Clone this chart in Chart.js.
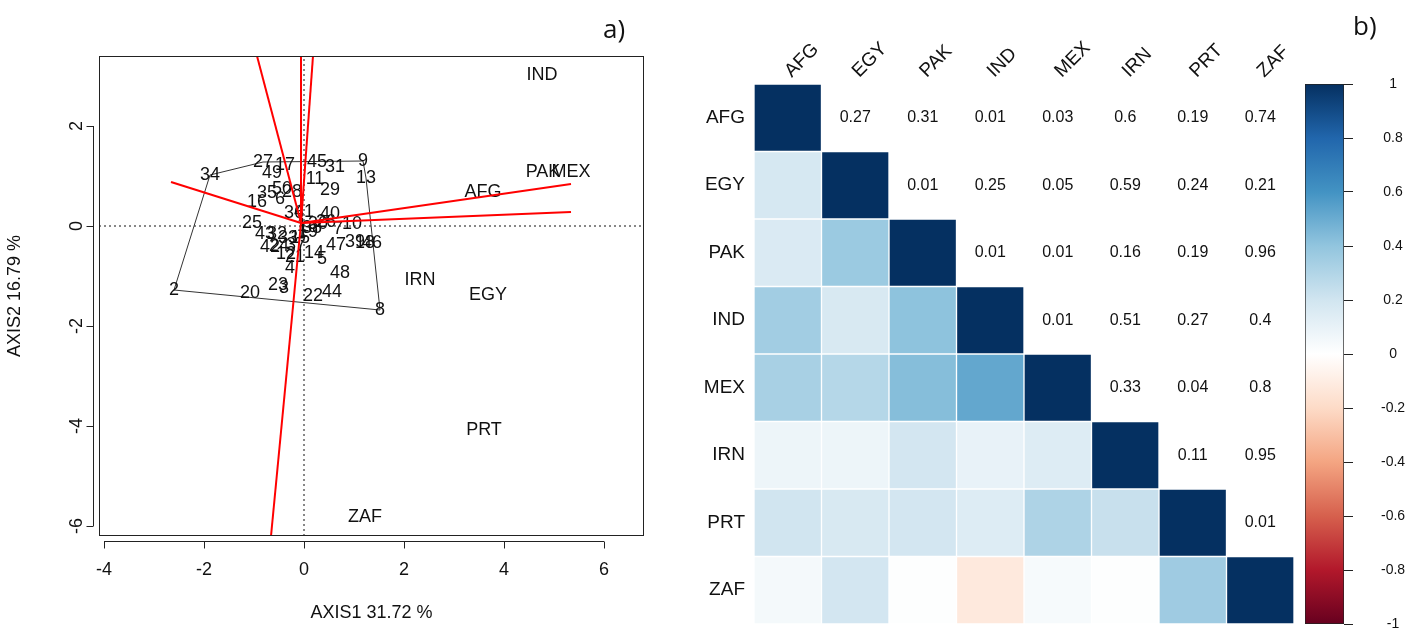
<!DOCTYPE html>
<html><head><meta charset="utf-8">
<script src="https://cdn.jsdelivr.net/npm/chart.js@4"></script>
<style>
html,body{margin:0;padding:0;background:#fff;}
#wrap{position:relative;width:1405px;height:631px;overflow:hidden;background:#fff;}
canvas{position:absolute;top:0;}
#cA{left:0;} #cB{left:680px;} #cC{left:1290px;}
.tag{position:absolute;font-family:'Open Sans','Noto Sans',sans-serif;font-size:26px;color:#111;line-height:1;}
</style></head><body>
<div id="wrap">
<canvas id="cA" width="660" height="631"></canvas>
<canvas id="cB" width="620" height="631"></canvas>
<canvas id="cC" width="115" height="631"></canvas>
<div class="tag" style="left:603px;top:15px">a)</div>
<div class="tag" style="left:1353px;top:12px">b)</div>
</div>
<script>
// ---------- Panel a) : biplot data ----------
const obsIds = [1,2,3,4,5,6,7,8,9,10,11,12,13,14,15,16,17,18,19,20,21,22,23,24,25,26,27,28,29,30,31,32,33,34,35,36,37,38,39,40,41,42,43,44,45,46,47,48,49,50];
const obsX = [-0.04,-2.60,-0.40,-0.28,0.36,-0.48,0.68,1.52,1.18,0.96,0.22,-0.36,1.24,0.20,-0.08,-0.94,-0.38,1.22,0.08,-1.08,-0.18,0.18,-0.52,-0.50,-1.04,0.44,-0.82,-0.24,0.52,0.28,0.62,-0.54,-0.32,-1.88,-0.74,-0.20,-0.16,0.16,1.02,0.52,0.00,-0.68,-0.78,0.56,0.26,1.36,0.64,0.72,-0.64,-0.44];
const obsY = [0.00,-1.28,-1.24,-0.84,-0.66,0.54,-0.06,-1.68,1.30,0.04,0.94,-0.56,0.96,-0.54,-0.24,0.48,1.22,-0.34,-0.12,-1.34,-0.62,-1.40,-1.18,-0.40,0.06,0.08,1.28,0.68,0.72,0.04,1.18,-0.16,-0.24,1.02,0.66,0.26,-0.38,-0.04,-0.32,0.24,0.28,-0.42,-0.16,-1.32,1.28,-0.34,-0.38,-0.94,1.06,0.74];
const hullIds = [2,34,27,9,13,8,2];
const varNames = ['IND','PAK','MEX','AFG','IRN','EGY','PRT','ZAF'];
const varX = [4.76,4.78,5.34,3.58,2.32,3.68,3.60,1.22];
const varY = [3.02,1.08,1.08,0.68,-1.08,-1.38,-4.08,-5.82];
const arrowStart = [-0.06,0.06];
const arrowEndX = [-0.94,-0.06,0.18,-0.66,-2.66,5.34,5.34];
const arrowEndY = [3.40,3.40,3.40,-6.20,0.88,0.84,0.28];
const xTicks = [-4,-2,0,2,4,6];
const yTicks = [-6,-4,-2,0,2];
const xRange = [-4.1,6.8];
const yRange = [-6.2,3.4];
const xTitle = 'AXIS1 31.72 %';
const yTitle = 'AXIS2 16.79 %';

// ---------- Panel b) : correlation matrix data ----------
const countries = ['AFG','EGY','PAK','IND','MEX','IRN','PRT','ZAF'];
const corrLower = [
  [1],
  [0.18,1],
  [0.16,0.37,1],
  [0.35,0.17,0.41,1],
  [0.33,0.29,0.43,0.52,1],
  [0.08,0.08,0.19,0.10,0.15,1],
  [0.20,0.17,0.19,0.15,0.31,0.23,1],
  [0.05,0.19,0.01,-0.12,0.04,0.01,0.36,1]
];
const pUpper = [
  [0.27,0.31,0.01,0.03,0.6,0.19,0.74],
  [0.01,0.25,0.05,0.59,0.24,0.21],
  [0.01,0.01,0.16,0.19,0.96],
  [0.01,0.51,0.27,0.4],
  [0.33,0.04,0.8],
  [0.11,0.95],
  [0.01],
  []
];
const cbTicks = [-1,-0.8,-0.6,-0.4,-0.2,0,0.2,0.4,0.6,0.8,1];
const palette = ['#67001F','#B2182B','#D6604D','#F4A582','#FDDBC7','#FFFFFF','#D1E5F0','#92C5DE','#4393C3','#2166AC','#053061'];

// ---------- helpers ----------
const FAM = "'Liberation Sans', Arial, sans-serif";
Chart.defaults.font.family = FAM;
Chart.defaults.color = '#111';
function hex2rgb(h){return [parseInt(h.substr(1,2),16),parseInt(h.substr(3,2),16),parseInt(h.substr(5,2),16)];}
function corrColor(v){
  const t=(v+1)/2*(palette.length-1);
  const i=Math.max(0,Math.min(palette.length-2,Math.floor(t)));
  const f=t-i; const a=hex2rgb(palette[i]), b=hex2rgb(palette[i+1]);
  const c=a.map((x,k)=>Math.round(x+(b[k]-x)*f));
  return 'rgb('+c.join(',')+')';
}
function fixV(w){return s=>{s.width=w; s.paddingTop=0; s.paddingBottom=0;};}

// ---------- Panel a) chart ----------
const labelPlugin = {
  id:'labelPlugin',
  afterDatasetDraw(chart,args){
    const ds = chart.data.datasets[args.index];
    if(!ds.textLabels) return;
    const ctx = chart.ctx;
    ctx.save();
    ctx.font = '18px '+FAM; ctx.fillStyle='#111';
    ctx.textAlign='center'; ctx.textBaseline='middle';
    args.meta.data.forEach((el,k)=>ctx.fillText(String(ds.textLabels[k]), el.x, el.y));
    ctx.restore();
  },
  afterDraw(chart){
    const {ctx, chartArea:a, scales:{x,y}} = chart;
    ctx.save(); ctx.strokeStyle='#222'; ctx.lineWidth=1;
    ctx.strokeRect(a.left+0.5,a.top+0.5,a.right-a.left-1,a.bottom-a.top-1);
    ctx.beginPath();
    const ay = Math.round(a.bottom)+5.5;
    ctx.moveTo(x.getPixelForValue(xTicks[0]),ay); ctx.lineTo(x.getPixelForValue(xTicks[xTicks.length-1]),ay);
    xTicks.forEach(v=>{const px=Math.round(x.getPixelForValue(v))+0.5; ctx.moveTo(px,ay); ctx.lineTo(px,ay+7);});
    const ax = Math.round(a.left)-5.5;
    ctx.moveTo(ax,y.getPixelForValue(yTicks[0])); ctx.lineTo(ax,y.getPixelForValue(yTicks[yTicks.length-1]));
    yTicks.forEach(v=>{const py=Math.round(y.getPixelForValue(v))+0.5; ctx.moveTo(ax,py); ctx.lineTo(ax-7,py);});
    ctx.stroke(); ctx.restore();
  }
};

const dsA = [];
dsA.push({data:[{x:xRange[0],y:0},{x:xRange[1],y:0}], showLine:true, borderColor:'#111', borderWidth:1, borderDash:[2,3], pointRadius:0, order:6});
dsA.push({data:[{x:0,y:yRange[0]},{x:0,y:yRange[1]}], showLine:true, borderColor:'#111', borderWidth:1, borderDash:[2,3], pointRadius:0, order:6});
dsA.push({data:hullIds.map(id=>({x:obsX[id-1],y:obsY[id-1]})), showLine:true, borderColor:'#333', borderWidth:1, pointRadius:0, order:5});
dsA.push({data:obsIds.map((id,k)=>({x:obsX[k],y:obsY[k]})), textLabels:obsIds, pointRadius:0, order:4});
dsA.push({data:varNames.map((n,k)=>({x:varX[k],y:varY[k]})), textLabels:varNames, pointRadius:0, order:4});
arrowEndX.forEach((ex,k)=>dsA.push({data:[{x:arrowStart[0],y:arrowStart[1]},{x:ex,y:arrowEndY[k]}], showLine:true, borderColor:'#ff0000', borderWidth:2, pointRadius:0, order:2}));

new Chart(document.getElementById('cA'),{
  type:'scatter',
  data:{datasets:dsA},
  options:{
    responsive:false, animation:false, devicePixelRatio:1,
    layout:{padding:{top:56,right:16,left:0,bottom:0}},
    plugins:{legend:{display:false},tooltip:{enabled:false}},
    scales:{
      x:{type:'linear',min:xRange[0],max:xRange[1],
         afterBuildTicks:s=>{s.ticks=xTicks.map(v=>({value:v}));},
         grid:{display:false,drawTicks:false}, border:{display:false},
         ticks:{callback:v=>String(v),font:{size:18},color:'#111',padding:23,maxRotation:0,autoSkip:false},
         title:{display:true,text:xTitle,font:{size:18},color:'#111',padding:{top:0,bottom:7}},
         afterFit:s=>{s.height=95;}},
      y:{type:'linear',min:yRange[0],max:yRange[1],
         afterBuildTicks:s=>{s.ticks=yTicks.map(v=>({value:v}));},
         grid:{display:false,drawTicks:false}, border:{display:false},
         ticks:{callback:v=>String(v),font:{size:18},color:'#111',padding:14,minRotation:90,maxRotation:90,crossAlign:'center',autoSkip:false},
         title:{display:true,text:yTitle,font:{size:18},color:'#111',padding:{top:4,bottom:0}},
         afterFit:fixV(99)}
    }
  },
  plugins:[labelPlugin]
});

// ---------- Panel b) matrix ----------
const matrixText = {
  id:'matrixText',
  afterDatasetsDraw(chart){
    const {ctx, scales:{x,y}} = chart;
    ctx.save();
    ctx.fillStyle='#111';
    ctx.font='16px '+FAM; ctx.textAlign='center'; ctx.textBaseline='middle';
    pUpper.forEach((row,i)=>row.forEach((p,k)=>{
      const j=i+1+k;
      ctx.fillText(String(p), x.getPixelForValue(j), y.getPixelForValue(i));
    }));
    ctx.font='19px '+FAM; ctx.textAlign='left'; ctx.textBaseline='alphabetic';
    countries.forEach((c,j)=>{
      ctx.save();
      ctx.translate(x.getPixelForValue(j)+4, chart.chartArea.top-6);
      ctx.rotate(-Math.PI/4);
      ctx.fillText(c,0,0);
      ctx.restore();
    });
    ctx.restore();
  }
};

new Chart(document.getElementById('cB'),{
  type:'bar',
  data:{labels:countries, datasets:corrLower.map((row,i)=>({
    label:countries[i],
    data:countries.map((c,j)=> j<=i ? [i-0.5,i+0.5] : null),
    backgroundColor:countries.map((c,j)=> j<=i ? corrColor(row[j]) : 'rgba(0,0,0,0)'),
    borderColor:'rgba(255,255,255,0.2)', borderWidth:1, borderSkipped:false,
    grouped:false, barPercentage:1, categoryPercentage:1
  }))},
  options:{
    responsive:false, animation:false, devicePixelRatio:1,
    layout:{padding:{top:84,bottom:7,right:6,left:0}},
    plugins:{legend:{display:false},tooltip:{enabled:false}},
    scales:{
      x:{display:false, offset:true},
      y:{type:'linear',reverse:true,min:-0.5,max:7.5,
         afterBuildTicks:s=>{s.ticks=countries.map((c,i)=>({value:i}));},
         ticks:{callback:v=>countries[v],font:{size:19},color:'#111',padding:9,autoSkip:false},
         grid:{display:false,drawTicks:false}, border:{display:false},
         afterFit:fixV(74)}
    }
  },
  plugins:[matrixText]
});

// ---------- Panel b) colour bar ----------
new Chart(document.getElementById('cC'),{
  type:'bar',
  data:{labels:['r'], datasets:[{
    data:[[cbTicks[0],cbTicks[cbTicks.length-1]]],
    backgroundColor:(c)=>{
      const a=c.chart.chartArea; if(!a) return palette[5];
      const g=c.chart.ctx.createLinearGradient(0,a.bottom,0,a.top);
      palette.forEach((col,k)=>g.addColorStop(k/(palette.length-1),col));
      return g;
    },
    borderColor:'#222', borderWidth:1, borderSkipped:false, barPercentage:1, categoryPercentage:1
  }]},
  options:{
    responsive:false, animation:false, devicePixelRatio:1,
    layout:{padding:{left:15,top:84,bottom:7,right:0}},
    plugins:{legend:{display:false},tooltip:{enabled:false}},
    scales:{
      x:{display:false},
      y:{position:'right',min:-1,max:1,
         afterBuildTicks:s=>{s.ticks=cbTicks.map(v=>({value:v}));},
         ticks:{callback:v=>String(Math.round(v*10)/10),crossAlign:'center',padding:28,font:{size:14},color:'#111',autoSkip:false},
         grid:{drawOnChartArea:false,drawTicks:true,tickLength:9,color:'#222'},
         border:{display:false},
         afterFit:fixV(61)}
    }
  }
});
</script>
</body></html>
